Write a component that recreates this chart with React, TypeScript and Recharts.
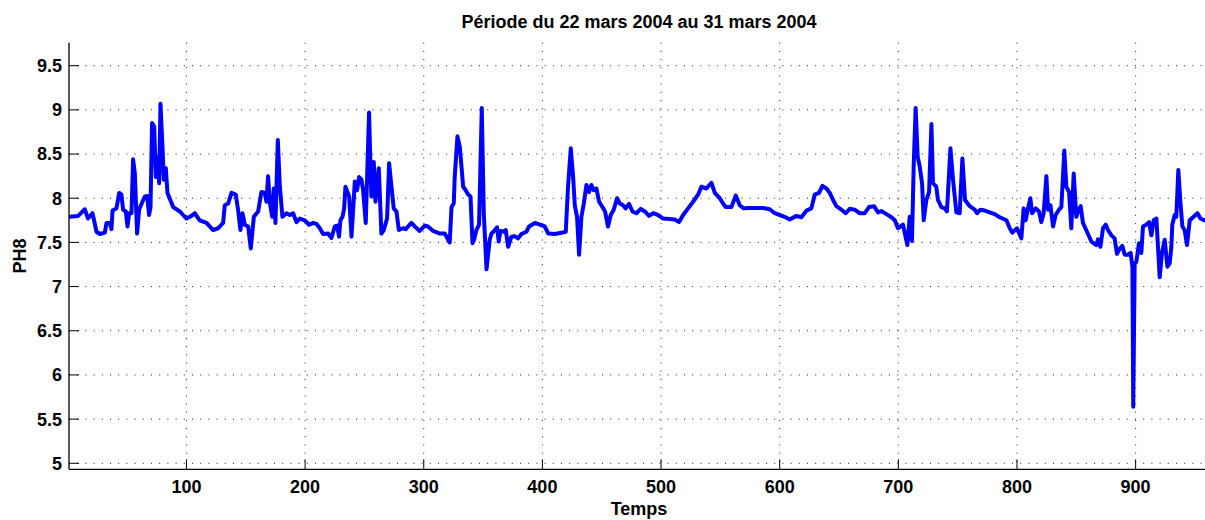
import React from 'react';
import { LineChart, Line, XAxis, YAxis, CartesianGrid } from 'recharts';

const times = [
  1, 8.7, 14.3, 17, 20.8, 24.2, 27, 31.2, 32.6, 35.4, 36.8, 37.7, 41, 43.3, 45.2, 46.6, 48.9, 50.3, 51.7, 53.7,
  55, 56.5, 58.4, 60.1, 62.9, 64.9, 66.9, 68.5, 69.7, 71, 72.8, 74.2, 75.6, 77, 78.1, 79.8, 80.9, 82.6, 84, 88.8,
  94.4, 97.2, 100, 104.2, 107, 111.2, 116.9, 122.5, 126.7, 130.9, 132.3, 135.1, 138, 141.6, 143.5, 145.5, 147.2, 149.2, 152, 154.2,
  156.8, 160.4, 163.2, 166, 167.4, 168.8, 170.2, 172.2, 173.6, 175, 177, 178.7, 180.9, 184.3, 187.1, 189.9, 192.7, 195.5, 199.7, 203.4,
  206.8, 209.6, 212.4, 215.2, 219.4, 222.2, 225, 227, 228.6, 229.8, 231.5, 232.9, 234, 237.1, 239.1, 240.5, 241.9, 243.8, 245.5, 247.5,
  248.9, 251.1, 253.9, 255.1, 255.9, 257.9, 259.3, 262.1, 264.3, 266.3, 269.1, 270.8, 272.8, 274.7, 277, 279, 282.6, 284.8, 289.6, 292.4,
  296.6, 300.9, 303.6, 307.9, 313.5, 317.7, 321.9, 323.4, 325.3, 326.1, 328.4, 330.4, 331.8, 333.2, 335.4, 337.4, 339.4, 341.1, 342.4, 344.4,
  346.6, 348.9, 350.6, 352.9, 355.6, 357.1, 359.9, 361.8, 363.2, 364.6, 367.4, 369.1, 371.1, 373.9, 376.7, 379.5, 382.3, 386.5, 388.8, 393.6,
  397.8, 402, 405, 410.4, 416.1, 419.7, 421.6, 423.9, 425.9, 427.3, 429.2, 430.9, 432.9, 434.9, 437.1, 439.3, 441.3, 443.3, 445.5, 447.8,
  450.6, 452.8, 455.3, 457.6, 460.1, 462.9, 465.2, 468, 470.2, 473, 475.9, 479.2, 482.9, 486.3, 489.9, 493.3, 497.5, 501.7, 507.3, 511.5,
  515.2, 518.6, 522.8, 527, 531.2, 534, 538.2, 542.5, 545.3, 549.5, 552.3, 554.5, 559.3, 563, 566.3, 569.7, 573.3, 580.4, 586, 591.6,
  595.8, 600, 604.2, 608.4, 614.1, 618.3, 622.5, 626.7, 629.5, 633.2, 636, 639.4, 642.2, 645, 647.8, 652, 655.7, 659, 663.2, 667.5,
  671.7, 675.3, 679.5, 682.9, 685.7, 690, 694.2, 697, 699.7, 703.9, 707.6, 709.6, 711.5, 713, 714.6, 716.3, 718, 720, 721.4, 723.6,
  725.9, 727.9, 729.2, 732, 733.4, 736.3, 739.1, 741, 743.9, 746.1, 748.9, 751.7, 754, 756.2, 760.2, 764.4, 766.3, 769.2, 772.8, 777,
  781.2, 785.4, 791.1, 793.9, 796.1, 800, 803.7, 805.6, 807.3, 809.3, 811.3, 812.7, 815.8, 818.6, 820.5, 822.5, 824.8, 826.2, 828.2, 830.4,
  832.6, 835.4, 837.4, 839.9, 841.6, 843.9, 845.8, 847.8, 850, 852, 853.7, 855.6, 859, 862.7, 866.9, 868.3, 870.3, 872.5, 874.8, 876.7,
  879.6, 882.3, 884.3, 886.6, 888.8, 890.8, 893.6, 895.8, 897.3, 898, 899.2, 900.6, 902.8, 904.8, 906.2, 909, 911.3, 913.3, 915.2, 917.5,
  920.3, 922.2, 924.5, 926.8, 928.7, 930.1, 930.9, 932.9, 934.3, 936, 937.7, 939.4, 941.3, 943.3, 945.6, 948.4, 952.1, 954.6, 958, 961,
];

const phValues = [
  7.79, 7.8, 7.875, 7.77, 7.83, 7.62, 7.595, 7.61, 7.72, 7.72, 7.65, 7.86, 7.885, 8.06, 8.04, 7.87, 7.85, 7.68, 7.83, 7.83,
  8.44, 8.28, 7.6, 7.87, 7.96, 8.02, 8.025, 7.81, 7.9, 8.85, 8.81, 8.24, 8.47, 8.17, 9.07, 8.58, 8.21, 8.34, 8.06, 7.9,
  7.85, 7.81, 7.77, 7.8, 7.83, 7.75, 7.72, 7.64, 7.66, 7.72, 7.92, 7.94, 8.06, 8.04, 7.87, 7.64, 7.83, 7.7, 7.68, 7.43,
  7.79, 7.85, 8.07, 8.06, 7.96, 8.25, 7.96, 7.79, 8.11, 7.72, 8.66, 8.13, 7.79, 7.83, 7.81, 7.83, 7.73, 7.77, 7.75, 7.7,
  7.72, 7.71, 7.66, 7.595, 7.6, 7.55, 7.68, 7.69, 7.565, 7.75, 7.79, 7.885, 8.13, 8.02, 7.565, 7.87, 8.19, 8.09, 8.24, 8.21,
  8.09, 7.72, 8.97, 8.36, 8.02, 8.41, 7.96, 8.34, 7.6, 7.64, 7.77, 8.395, 8.13, 7.885, 7.85, 7.64, 7.66, 7.65, 7.72, 7.68,
  7.63, 7.69, 7.68, 7.63, 7.6, 7.6, 7.5, 7.9, 7.94, 8.24, 8.7, 8.58, 8.36, 8.13, 8.09, 8.04, 8.02, 7.49, 7.53, 7.64,
  7.7, 9.02, 7.83, 7.195, 7.53, 7.6, 7.64, 7.67, 7.51, 7.63, 7.62, 7.64, 7.45, 7.565, 7.57, 7.545, 7.595, 7.62, 7.68, 7.72,
  7.7, 7.68, 7.6, 7.595, 7.61, 7.62, 8.13, 8.565, 8.24, 7.92, 7.79, 7.36, 7.79, 7.94, 8.15, 8.07, 8.15, 8.09, 8.11, 7.96,
  7.9, 7.85, 7.68, 7.81, 7.87, 8.0, 7.94, 7.92, 7.885, 7.935, 7.85, 7.83, 7.88, 7.85, 7.8, 7.83, 7.81, 7.77, 7.765, 7.76,
  7.73, 7.81, 7.885, 7.96, 8.04, 8.13, 8.11, 8.175, 8.06, 8.0, 7.94, 7.9, 7.9, 8.03, 7.92, 7.885, 7.89, 7.89, 7.89, 7.875,
  7.83, 7.81, 7.79, 7.76, 7.8, 7.785, 7.86, 7.885, 8.04, 8.06, 8.14, 8.11, 8.06, 7.98, 7.91, 7.87, 7.83, 7.88, 7.87, 7.83,
  7.83, 7.9, 7.91, 7.84, 7.855, 7.82, 7.785, 7.75, 7.66, 7.7, 7.47, 7.79, 7.515, 8.395, 9.02, 8.47, 8.36, 8.17, 7.75, 7.98,
  8.07, 8.84, 8.17, 8.13, 7.98, 7.9, 7.885, 7.85, 8.565, 8.21, 7.84, 7.83, 8.45, 7.98, 7.91, 7.87, 7.83, 7.87, 7.86, 7.84,
  7.82, 7.785, 7.75, 7.66, 7.61, 7.66, 7.545, 7.885, 7.75, 7.885, 8.0, 7.83, 7.885, 7.85, 7.73, 7.83, 8.25, 7.87, 7.92, 7.68,
  7.81, 7.87, 7.9, 8.54, 8.13, 8.07, 7.66, 8.28, 7.79, 7.87, 7.91, 7.72, 7.62, 7.51, 7.47, 7.535, 7.45, 7.66, 7.7, 7.64,
  7.58, 7.545, 7.37, 7.43, 7.46, 7.36, 7.36, 7.38, 7.225, 5.64, 7.26, 7.28, 7.49, 7.38, 7.68, 7.7, 7.73, 7.58, 7.75, 7.77,
  7.105, 7.38, 7.53, 7.225, 7.26, 7.45, 7.7, 7.81, 7.79, 8.32, 7.96, 7.68, 7.64, 7.47, 7.75, 7.785, 7.83, 7.77, 7.75, 7.74,
];

const xTicks = [100, 200, 300, 400, 500, 600, 700, 800, 900];
const yTicks = [5, 5.5, 6, 6.5, 7, 7.5, 8, 8.5, 9, 9.5];
const titleText = 'Période du 22 mars 2004 au 31 mars 2004';
const xLabelText = 'Temps';
const yLabelText = 'PH8';

const data = times.map((t, i) => ({ t, ph: phValues[i] }));

const FONT = '"Liberation Sans", Arial, Helvetica, sans-serif';
const tickStyle = { fontSize: 18, fontWeight: 700, fill: '#000', fontFamily: FONT };
const axisLineStyle = { stroke: '#000', strokeWidth: 1.3 };
const tickLineStyle = { stroke: '#000', strokeWidth: 1 };
const textStyle: React.CSSProperties = {
  position: 'absolute',
  fontFamily: FONT,
  fontSize: 18,
  fontWeight: 700,
  lineHeight: '18px',
  color: '#000',
  textAlign: 'center',
  whiteSpace: 'nowrap',
};

export default function App() {
  return (
    <div style={{ position: 'absolute', left: 0, top: 0, width: 1205, height: 520, overflow: 'hidden', background: '#fff' }}>
      <LineChart width={1210} height={520} data={data} margin={{ top: 42.7, right: 2, bottom: 0, left: 0 }}>
        <CartesianGrid stroke="#222" strokeWidth={1} strokeDasharray="1 7.2" horizontalValues={yTicks} verticalValues={xTicks} />
        <XAxis
          xAxisId={0}
          dataKey="t"
          type="number"
          domain={[1, 961]}
          ticks={xTicks}
          interval={0}
          allowDataOverflow
          orientation="bottom"
          height={50.7}
          tickSize={-10}
          tickMargin={21}
          tick={tickStyle}
          axisLine={axisLineStyle}
          tickLine={tickLineStyle}
        />
        <XAxis
          xAxisId="top"
          dataKey="t"
          type="number"
          domain={[1, 961]}
          ticks={xTicks}
          interval={0}
          allowDataOverflow
          orientation="top"
          height={0}
          tickSize={-10}
          tick={false}
          axisLine={axisLineStyle}
          tickLine={tickLineStyle}
        />
        <YAxis
          yAxisId={0}
          type="number"
          domain={[4.932, 9.76]}
          ticks={yTicks}
          interval={0}
          allowDataOverflow
          width={69}
          tickSize={-10}
          tickMargin={17}
          tick={tickStyle}
          axisLine={axisLineStyle}
          tickLine={tickLineStyle}
        />
        <YAxis
          yAxisId="right"
          orientation="right"
          type="number"
          domain={[4.932, 9.76]}
          ticks={yTicks}
          interval={0}
          allowDataOverflow
          width={0}
          tickSize={-10}
          tick={false}
          axisLine={axisLineStyle}
          tickLine={tickLineStyle}
        />
        <Line
          xAxisId="top"
          yAxisId="right"
          type="linear"
          dataKey="ph"
          stroke="none"
          strokeWidth={0}
          dot={false}
          activeDot={false}
          legendType="none"
          isAnimationActive={false}
        />
        <Line
          xAxisId={0}
          yAxisId={0}
          type="linear"
          dataKey="ph"
          stroke="#0000ff"
          strokeWidth={4}
          strokeLinejoin="round"
          dot={false}
          activeDot={false}
          isAnimationActive={false}
        />
      </LineChart>
      <div style={{ ...textStyle, left: 339, width: 600, top: 13 }}>{titleText}</div>
      <div style={{ ...textStyle, left: 539, width: 200, top: 500 }}>{xLabelText}</div>
      <div style={{ ...textStyle, left: -29.7, width: 100, top: 247, height: 18, transform: 'rotate(-90deg)' }}>{yLabelText}</div>
    </div>
  );
}
